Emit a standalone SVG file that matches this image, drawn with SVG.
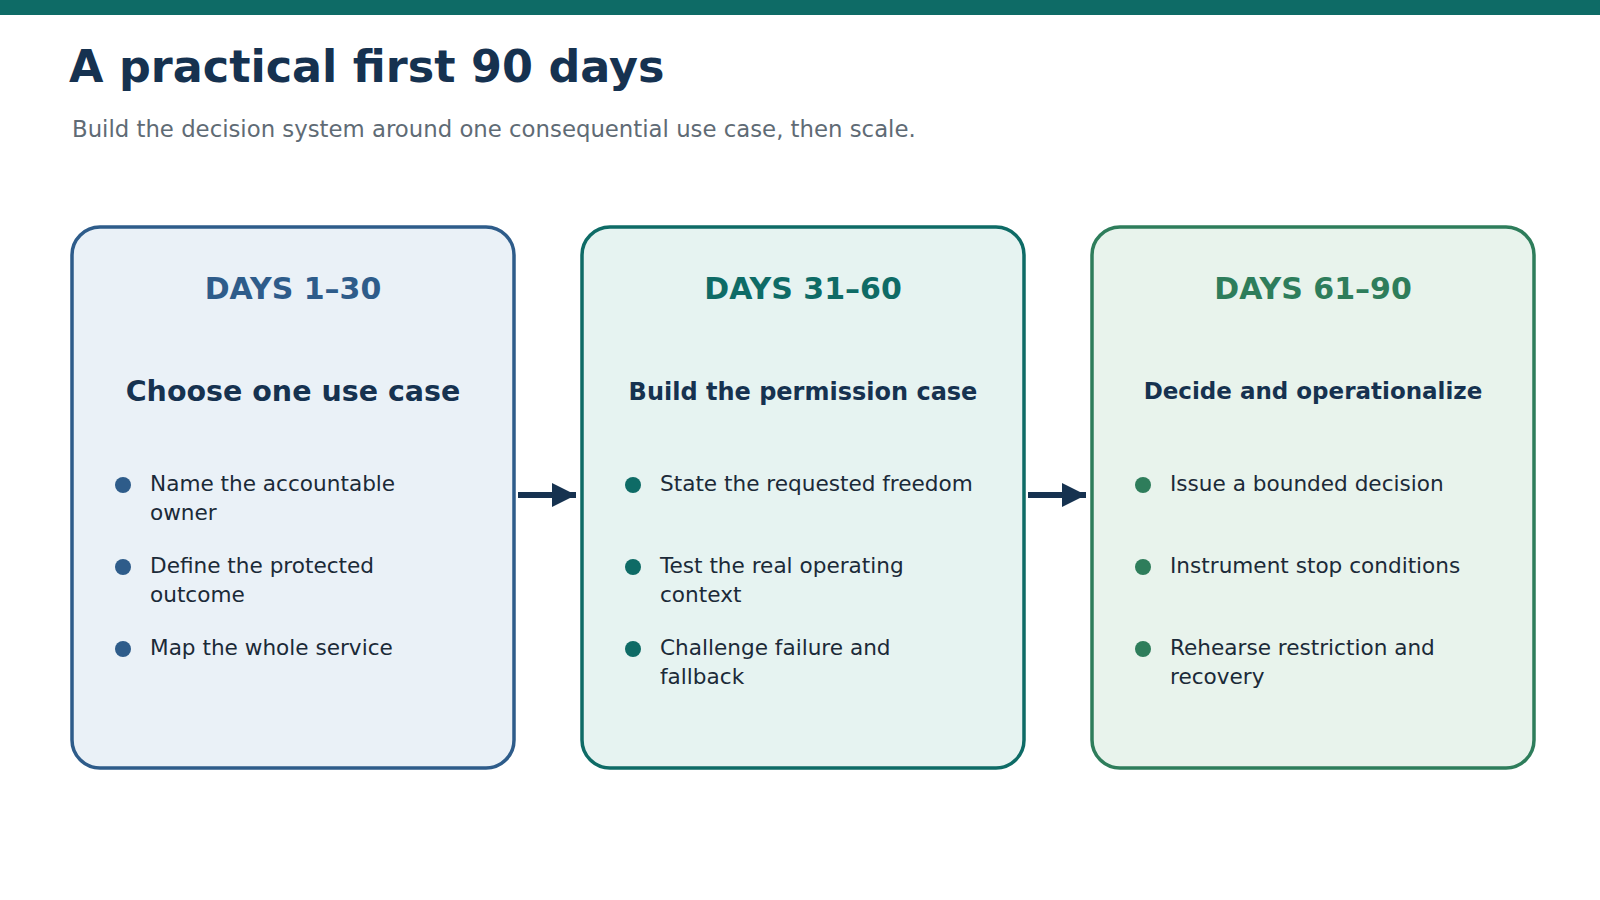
<svg xmlns="http://www.w3.org/2000/svg" width="1600" height="900" viewBox="0 0 1600 900">
<style>
text{font-family:"DejaVu Sans","Noto Sans",sans-serif}
.hd{font-size:30px;font-weight:bold;text-anchor:middle}
.sub{font-size:23px;font-weight:bold;text-anchor:middle;fill:#163250}
.it{font-size:21.6px;fill:#1b2a38}
.box{stroke-width:3.5}
</style>
<defs><marker id="ah" viewBox="0 0 10 10" refX="10" refY="5" markerWidth="4" markerHeight="4" orient="auto" markerUnits="strokeWidth"><path d="M0,0L10,5L0,10z" fill="#163250"/></marker></defs>
<rect x="0" y="0" width="1600" height="15" fill="#0e6b66"/>
<text x="69" y="82" font-size="44.5" font-weight="bold" fill="#163250">A practical first 90 days</text>
<text x="72" y="137" font-size="22.8" fill="#5f6b75">Build the decision system around one consequential use case, then scale.</text>
<g id="connectors" stroke="#163250" stroke-width="6">
<line x1="518" y1="495" x2="576" y2="495" marker-end="url(#ah)"/>
<line x1="1028" y1="495" x2="1086" y2="495" marker-end="url(#ah)"/>
</g>
<g id="phase1">
<rect class="box" x="72" y="227" width="442" height="541" rx="28" fill="#eaf1f7" stroke="#2e5c8a"/>
<text class="hd" x="293" y="299" fill="#2e5c8a">DAYS 1–30</text>
<text class="sub" x="293" y="401" style="font-size:28.5px">Choose one use case</text>
<g fill="#2e5c8a"><circle cx="123" cy="485" r="8"/><circle cx="123" cy="567" r="8"/><circle cx="123" cy="649" r="8"/></g>
<text class="it" x="150" y="491">Name the accountable</text><text class="it" x="150" y="520">owner</text>
<text class="it" x="150" y="573">Define the protected</text><text class="it" x="150" y="602">outcome</text>
<text class="it" x="150" y="655">Map the whole service</text>
</g>
<g id="phase2">
<rect class="box" x="582" y="227" width="442" height="541" rx="28" fill="#e6f3f1" stroke="#0e6b66"/>
<text class="hd" x="803" y="299" fill="#0e6b66">DAYS 31–60</text>
<text class="sub" x="803" y="400" style="font-size:24px">Build the permission case</text>
<g fill="#0e6b66"><circle cx="633" cy="485" r="8"/><circle cx="633" cy="567" r="8"/><circle cx="633" cy="649" r="8"/></g>
<text class="it" x="660" y="491">State the requested freedom</text>
<text class="it" x="660" y="573">Test the real operating</text><text class="it" x="660" y="602">context</text>
<text class="it" x="660" y="655">Challenge failure and</text><text class="it" x="660" y="684">fallback</text>
</g>
<g id="phase3">
<rect class="box" x="1092" y="227" width="442" height="541" rx="28" fill="#e8f3ec" stroke="#2e7d5b"/>
<text class="hd" x="1313" y="299" fill="#2e7d5b">DAYS 61–90</text>
<text class="sub" x="1313" y="399">Decide and operationalize</text>
<g fill="#2e7d5b"><circle cx="1143" cy="485" r="8"/><circle cx="1143" cy="567" r="8"/><circle cx="1143" cy="649" r="8"/></g>
<text class="it" x="1170" y="491">Issue a bounded decision</text>
<text class="it" x="1170" y="573">Instrument stop conditions</text>
<text class="it" x="1170" y="655">Rehearse restriction and</text><text class="it" x="1170" y="684">recovery</text>
</g>
</svg>
